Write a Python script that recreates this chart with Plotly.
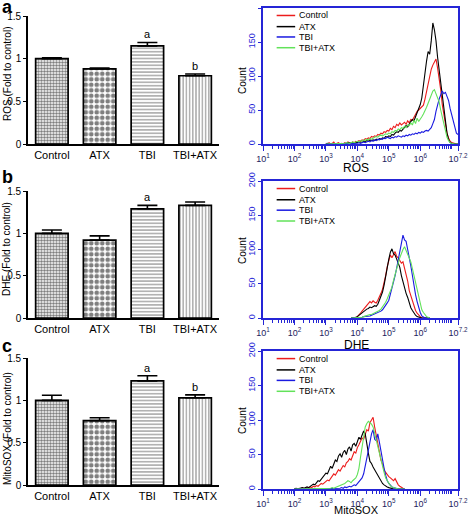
import plotly.graph_objects as go

# ---------------- data ----------------
categories = ["Control", "ATX", "TBI", "TBI+ATX"]

ros_mean = [1.00, 0.88, 1.15, 0.80]
ros_err = [0.01, 0.01, 0.04, 0.02]
ros_sig = ["", "", "a", "b"]

dhe_mean = [1.00, 0.92, 1.29, 1.33]
dhe_err = [0.04, 0.05, 0.04, 0.04]
dhe_sig = ["", "", "a", ""]

mito_mean = [1.00, 0.76, 1.23, 1.03]
mito_err = [0.06, 0.035, 0.06, 0.035]
mito_sig = ["", "", "a", "b"]

series_names = ["Control", "ATX", "TBI", "TBI+ATX"]

# histogram channels (log10 of fluorescence), 0.05-decade bins
ros_bins = [round(3.0 + 0.05 * i, 2) for i in range(85)]      # 3.00 .. 7.20
dhe_bins = [round(3.8 + 0.05 * i, 2) for i in range(51)]      # 3.80 .. 6.30
mito_bins = [round(2.0 + 0.05 * i, 2) for i in range(71)]     # 2.00 .. 5.50

ros_control = [1, 0, 2, 0, 1, 3, 0, 1, 2, 0,
               1, 0, 2, 1, 3, 2, 1, 3, 2, 4,
               3, 5, 4, 6, 5, 8, 7, 9, 8, 11,
               10, 12, 11, 14, 13, 16, 15, 18, 17, 20,
               19, 23, 21, 26, 24, 29, 27, 31, 28, 30,
               32, 29, 34, 31, 36, 35, 40, 43, 48, 50,
               52, 55, 57, 66, 77, 90, 101, 110, 116, 120,
               125, 112, 98, 80, 58, 42, 26, 16, 9, 4,
               2, 1, 0, 0, 0]
ros_atx = [0, 1, 0, 0, 1, 0, 0, 1, 0, 1,
           0, 1, 1, 0, 2, 1, 1, 2, 1, 2,
           2, 3, 2, 3, 4, 3, 5, 4, 6, 5,
           6, 5, 7, 6, 8, 7, 9, 8, 11, 10,
           12, 11, 14, 13, 16, 18, 17, 20, 19, 22,
           24, 27, 25, 30, 33, 36, 34, 40, 46, 52,
           58, 68, 88, 110, 122, 136, 132, 152, 178, 168,
           152, 128, 110, 90, 66, 48, 30, 16, 7, 2,
           1, 0, 0, 0, 0]
ros_tbi = [0, 0, 0, 0, 0, 0, 0, 0, 0, 0,
           0, 0, 0, 0, 1, 0, 1, 0, 1, 1,
           1, 2, 1, 2, 3, 2, 3, 4, 3, 5,
           4, 6, 5, 7, 6, 8, 7, 9, 8, 10,
           9, 8, 10, 9, 11, 10, 12, 11, 10, 12,
           11, 13, 12, 14, 13, 15, 14, 16, 15, 17,
           16, 18, 17, 19, 20, 19, 22, 24, 30, 36,
           48, 58, 66, 72, 78, 74, 76, 70, 64, 52,
           42, 33, 24, 16, 14]
ros_tbi_atx = [0, 0, 1, 0, 0, 1, 0, 1, 0, 0,
               1, 0, 1, 2, 1, 1, 2, 3, 2, 3,
               4, 3, 5, 4, 6, 5, 7, 6, 8, 7,
               9, 10, 11, 10, 12, 13, 12, 14, 15, 14,
               16, 15, 18, 17, 20, 19, 22, 21, 24, 23,
               26, 24, 28, 27, 31, 28, 35, 30, 38, 33,
               36, 40, 44, 48, 54, 60, 66, 70, 78, 80,
               74, 68, 62, 50, 40, 28, 18, 10, 5, 2,
               1, 0, 0, 0, 0]

dhe_control = [0, 0, 0, 1, 2, 4, 7, 10, 13, 16,
               18, 21, 24, 22, 25, 23, 22, 26, 30, 36,
               42, 51, 62, 75, 84, 92, 88, 94, 97, 90,
               88, 84, 80, 82, 72, 65, 54, 40, 32, 26,
               18, 11, 7, 4, 2, 0, 0, 0, 0, 0,
               0]
dhe_atx = [0, 0, 1, 1, 2, 4, 6, 8, 10, 11,
           13, 14, 16, 15, 17, 18, 17, 20, 26, 32,
           38, 48, 62, 74, 86, 96, 101, 94, 92, 86,
           80, 74, 62, 52, 44, 36, 30, 21, 15, 11,
           7, 4, 2, 1, 0, 0, 0, 0, 0, 0,
           0]
dhe_tbi = [0, 0, 0, 0, 1, 0, 1, 1, 2, 2,
           2, 3, 3, 4, 5, 5, 6, 7, 9, 10,
           12, 15, 18, 22, 26, 34, 42, 51, 62, 73,
           85, 97, 108, 121, 114, 112, 100, 90, 76, 62,
           46, 34, 24, 14, 8, 3, 1, 0, 0, 0,
           0]
dhe_tbi_atx = [0, 0, 0, 0, 1, 0, 1, 1, 2, 3,
               3, 4, 5, 5, 6, 7, 8, 10, 11, 13,
               16, 19, 23, 28, 34, 40, 45, 55, 65, 72,
               80, 88, 95, 100, 104, 98, 95, 89, 82, 72,
               62, 52, 40, 30, 18, 12, 8, 4, 2, 1,
               0]

mito_control = [0, 1, 0, 1, 0, 2, 1, 0, 2, 1,
                3, 2, 4, 3, 5, 4, 6, 8, 7, 9,
                11, 13, 12, 15, 18, 22, 20, 24, 28, 26,
                30, 34, 32, 38, 40, 44, 42, 50, 54, 52,
                60, 64, 70, 74, 72, 80, 86, 84, 96, 100,
                104, 90, 78, 62, 52, 42, 36, 28, 24, 20,
                18, 16, 14, 12, 15, 10, 6, 4, 2, 1,
                0]
mito_atx = [0, 1, 0, 1, 1, 2, 1, 2, 3, 2,
            4, 5, 7, 6, 9, 12, 11, 14, 17, 20,
            23, 22, 27, 33, 30, 38, 42, 40, 48, 51,
            46, 53, 56, 50, 58, 61, 55, 64, 66, 62,
            70, 75, 72, 78, 84, 80, 62, 52, 40, 37,
            32, 28, 22, 18, 14, 11, 8, 6, 4, 3,
            2, 1, 1, 0, 0, 0, 0, 0, 0, 0,
            0]
mito_tbi = [0, 0, 0, 0, 0, 0, 0, 0, 0, 0,
            0, 0, 0, 0, 0, 0, 0, 0, 0, 0,
            0, 0, 0, 0, 1, 0, 1, 0, 1, 1,
            2, 1, 3, 2, 3, 4, 3, 5, 6, 5,
            8, 10, 13, 16, 22, 32, 44, 56, 68, 80,
            86, 72, 70, 80, 68, 54, 40, 30, 20, 12,
            8, 5, 3, 2, 1, 0, 0, 0, 0, 0,
            0]
mito_tbi_atx = [0, 0, 0, 0, 0, 0, 0, 0, 0, 0,
                0, 0, 0, 0, 0, 1, 0, 0, 1, 0,
                1, 0, 1, 1, 2, 1, 2, 3, 3, 4,
                5, 6, 8, 10, 12, 11, 9, 12, 14, 16,
                21, 30, 46, 62, 80, 90, 95, 98, 96, 94,
                90, 80, 74, 62, 50, 40, 32, 24, 16, 12,
                8, 5, 3, 2, 1, 0, 0, 0, 0, 0,
                0]

# tick labels
bar_ticks = [0, 0.5, 1, 1.5]
bar_ticktext = ["0", "0.5", "1", "1.5"]
count_ticks = [0, 50, 100, 150, 200]
decade_exps = [1, 2, 3, 4, 5, 6, 7.2]
decade_text = ["10<sup>1</sup>", "10<sup>2</sup>", "10<sup>3</sup>", "10<sup>4</sup>",
               "10<sup>5</sup>", "10<sup>6</sup>", "10<sup>7.2</sup>"]

# ---------------- styles ----------------
FONT = "Arial, Liberation Sans, sans-serif"
BLUE = "#2525d6"
line_colors = ["#ec1c1c", "#000000", "#1a1ae0", "#62e25a"]
bar_shapes = [".", ".", "-", "|"]
bar_psize = [3, 5.5, 3.4, 3.2]
bar_solid = [0.55, 0.55, 0.3, 0.3]

BAR_X = [28 / 472, 219 / 472]
HIST_X = [263 / 472, 458 / 472]


def ydom(bottom_px, top_px):
    return [1 - bottom_px / 516, 1 - top_px / 516]


fig = go.Figure()

bar_panels = [
    (ros_mean, ros_err, ros_sig, "x", "y", ydom(144, 16)),
    (dhe_mean, dhe_err, dhe_sig, "x3", "y3", ydom(318, 191)),
    (mito_mean, mito_err, mito_sig, "x5", "y5", ydom(485, 358)),
]
hist_panels = [
    (ros_bins, [ros_control, ros_atx, ros_tbi, ros_tbi_atx], "x2", "y2", ydom(144, 8)),
    (dhe_bins, [dhe_control, dhe_atx, dhe_tbi, dhe_tbi_atx], "x4", "y4", ydom(318, 181)),
    (mito_bins, [mito_control, mito_atx, mito_tbi, mito_tbi_atx], "x6", "y6", ydom(489, 351)),
]

layout_axes = {}

for mean, err, sig, xa, ya, yd in bar_panels:
    fig.add_trace(go.Bar(
        x=categories, y=mean, xaxis=xa, yaxis=ya, width=0.68,
        marker=dict(color="white", line=dict(color="black", width=1.7),
                    pattern=dict(shape=bar_shapes, size=bar_psize, solidity=bar_solid,
                                 fgcolor="black", bgcolor="white")),
        error_y=dict(type="data", array=err, arrayminus=[0] * len(err), symmetric=False,
                     color="black", thickness=1.6, width=10),
        showlegend=False,
    ))
    for c, m, e, s in zip(categories, mean, err, sig):
        if s:
            fig.add_annotation(x=c, y=m + e, xref=xa, yref=ya, text=s, showarrow=False,
                               yanchor="bottom", yshift=0, font=dict(size=11, color="black", family=FONT))
    xk = "xaxis" + xa[1:]
    yk = "yaxis" + ya[1:]
    layout_axes[xk] = dict(domain=BAR_X, anchor=ya, type="category", range=[-0.5, 3.5],
                           showline=True, linecolor="black", linewidth=1.6, ticks="",
                           tickfont=dict(size=11, color="black"), showgrid=False, zeroline=False,
                           automargin=False, fixedrange=True)
    layout_axes[yk] = dict(domain=yd, anchor=xa, range=[0, 1.5], tickvals=bar_ticks, ticktext=bar_ticktext,
                           ticks="outside", ticklen=3, tickwidth=1.2, tickcolor="black",
                           showline=True, linecolor="black", linewidth=1.6,
                           tickfont=dict(size=10, color="black"), showgrid=False, zeroline=False,
                           automargin=False, fixedrange=True)

minor_vals = [m * 10 ** k for k in range(1, 7) for m in range(2, 10)] + [1e7]

legend_y = [0.945, 0.863, 0.787, 0.708]

for bins, curves, xa, ya, yd in hist_panels:
    xs = [10 ** b for b in bins]
    for name, col, vals in zip(series_names, line_colors, curves):
        fig.add_trace(go.Scatter(x=xs, y=vals, xaxis=xa, yaxis=ya, mode="lines", name=name,
                                 line=dict(color=col, width=1.1), showlegend=False))
    xk = "xaxis" + xa[1:]
    yk = "yaxis" + ya[1:]
    layout_axes[xk] = dict(domain=HIST_X, anchor=ya, type="log", range=[1, 7.2],
                           tickvals=[10 ** e for e in decade_exps], ticktext=decade_text,
                           ticks="outside", ticklen=5, tickcolor=BLUE, tickwidth=1,
                           minor=dict(tickvals=minor_vals, ticks="outside", ticklen=3,
                                      tickcolor=BLUE, tickwidth=1),
                           showline=True, linecolor=BLUE, linewidth=1.5, mirror=True,
                           tickfont=dict(size=9, color="#1c1c60"), showgrid=False, zeroline=False,
                           automargin=False, fixedrange=True)
    layout_axes[yk] = dict(domain=yd, anchor=xa, range=[0, 200], tickvals=count_ticks,
                           ticks="outside", ticklen=3, tickcolor=BLUE, tickwidth=1,
                           showline=True, linecolor=BLUE, linewidth=1.5, mirror=True,
                           tickangle=-90, tickfont=dict(size=9, color=BLUE),
                           showgrid=False, zeroline=False, automargin=False, fixedrange=True)
    # legend (compact, inside plot)
    for name, col, ly in zip(series_names, line_colors, legend_y):
        fig.add_shape(type="line", xref=xa + " domain", yref=ya + " domain",
                      x0=0.07, x1=0.165, y0=ly, y1=ly, line=dict(color=col, width=1.5))
        fig.add_annotation(xref=xa + " domain", yref=ya + " domain", x=0.175, y=ly, text=name,
                           showarrow=False, xanchor="left", yanchor="middle",
                           font=dict(size=9, color="black", family=FONT))

# ---------------- text labels ----------------
def px_ann(text, x, y, size, rot=0, bold=False, xanchor="center"):
    fig.add_annotation(xref="paper", yref="paper", x=x / 472, y=1 - y / 516, text=text,
                       showarrow=False, textangle=rot, xanchor=xanchor, yanchor="middle",
                       font=dict(size=size, color="black", family=FONT,
                                 weight="bold" if bold else "normal"))

px_ann("a", 0, 7, 18, bold=True, xanchor="left")
px_ann("b", 0, 177, 18, bold=True, xanchor="left")
px_ann("c", 0, 346, 18, bold=True, xanchor="left")

px_ann("ROS (Fold to control)", 7, 74, 10, rot=-90)
px_ann("DHE (Fold to control)", 7, 249, 10, rot=-90)
px_ann("MitoSOX (Fold to control)", 7, 429, 10, rot=-90)

px_ann("Count", 242, 80, 10, rot=-90)
px_ann("Count", 242, 250, 10, rot=-90)
px_ann("Count", 242, 420, 10, rot=-90)

px_ann("ROS", 356, 168, 12)
px_ann("DHE", 356, 345, 12)
px_ann("MitoSOX", 356, 510, 11)

fig.update_layout(
    width=472, height=516, margin=dict(l=0, r=0, t=0, b=0),
    paper_bgcolor="white", plot_bgcolor="white",
    font=dict(family=FONT, color="black"),
    showlegend=False, bargap=0.3,
    **layout_axes,
)

fig.write_html("out.html", config={"displayModeBar": False},
               post_script="document.body.style.margin='0px';")
